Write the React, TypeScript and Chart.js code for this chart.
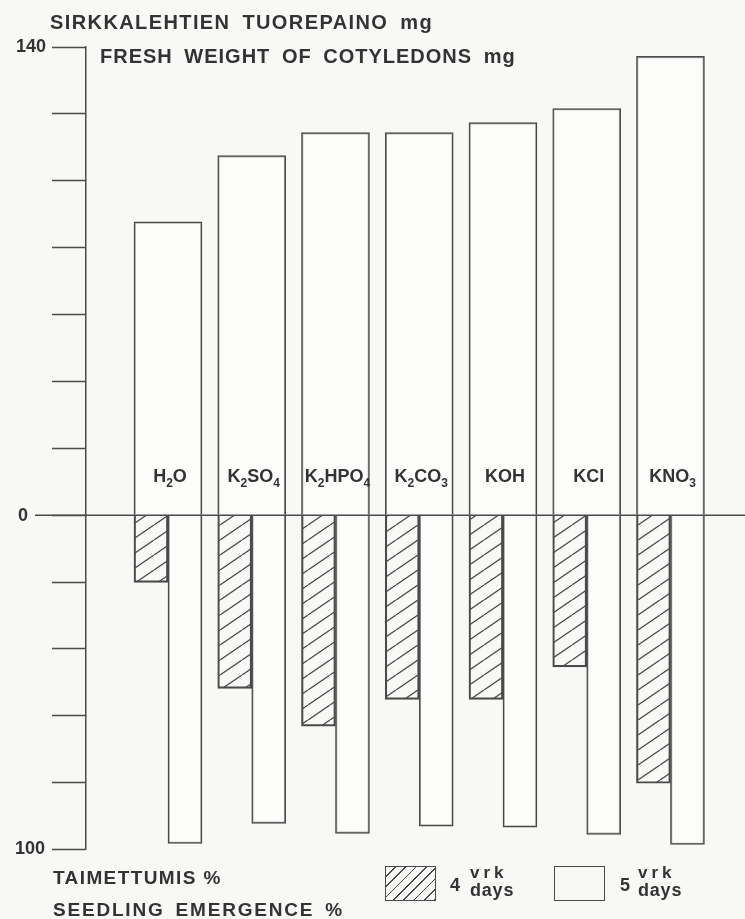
import { useEffect, useRef } from 'react';
import { Chart, registerables } from 'chart.js';

Chart.register(...registerables);

const categories = ['H2O', 'K2SO4', 'K2HPO4', 'K2CO3', 'KOH', 'KCl', 'KNO3'];
// fresh weight of cotyledons, mg (upper half)
const freshWeight = [87.7, 107.5, 114.4, 114.4, 117.4, 121.6, 137.2];
// seedling emergence %, after 4 and 5 days (lower half, drawn downwards)
const emergence4 = [20.1, 51.8, 63.1, 55.1, 55.1, 45.4, 80.2];
const emergence5 = [98.2, 92.2, 95.2, 93.0, 93.3, 95.5, 98.5];
const weightMax = 140;
const emergenceMax = 100;
const tickStep = 20;

const ink = '#333333';
const lineColor = '#4a4a4a';
const paper = '#f8f8f6';
const fontFamily = "'Liberation Sans', Arial, sans-serif";

function makeHatch(ctx: CanvasRenderingContext2D) {
  const w = 22;
  const h = 15;
  const tile = document.createElement('canvas');
  tile.width = w;
  tile.height = h;
  const g = tile.getContext('2d')!;
  g.strokeStyle = lineColor;
  g.lineWidth = 1.3;
  for (const dx of [-w, 0, w]) {
    g.beginPath();
    g.moveTo(dx, h);
    g.lineTo(dx + w, 0);
    g.stroke();
  }
  return ctx.createPattern(tile, 'repeat');
}

// zero line, y labels and the formula labels (digits as subscripts)
const overlayPlugin = {
  id: 'overlay',
  afterDatasetsDraw(chart: any) {
    const { ctx, chartArea, scales } = chart;
    const y = scales.y;
    const x = scales.x;
    const y0 = y.getPixelForValue(0);
    ctx.save();
    ctx.strokeStyle = lineColor;
    ctx.lineWidth = 1.5;
    ctx.beginPath();
    ctx.moveTo(35, y0);
    ctx.lineTo(chart.width, y0);
    ctx.stroke();

    ctx.fillStyle = ink;
    ctx.font = `bold 18px ${fontFamily}`;
    ctx.textBaseline = 'middle';
    ctx.textAlign = 'right';
    ctx.fillText(String(weightMax), chartArea.left - 40, y.getPixelForValue(weightMax));
    ctx.fillText(String(emergenceMax), chartArea.left - 41, y.getPixelForValue(-emergenceMax));
    ctx.fillText('0', 28, y0 + 1);

    ctx.textAlign = 'left';
    ctx.textBaseline = 'alphabetic';
    const mainFont = `bold 18px ${fontFamily}`;
    const subFont = `bold 12px ${fontFamily}`;
    categories.forEach((name, i) => {
      const parts: string[] = name.match(/\d+|\D+/g) || [];
      const widths = parts.map(p => {
        ctx.font = /\d/.test(p) ? subFont : mainFont;
        return ctx.measureText(p).width;
      });
      const total = widths.reduce((a, b) => a + b, 0);
      let px = x.getPixelForValue(i + 1) - total / 2 + 2;
      parts.forEach((p, j) => {
        const sub = /\d/.test(p);
        ctx.font = sub ? subFont : mainFont;
        ctx.fillText(p, px, y0 - (sub ? 28 : 33));
        px += widths[j];
      });
    });
    ctx.restore();
  }
};

export default function App() {
  const chartRef = useRef<HTMLCanvasElement>(null);
  const chartInstanceRef = useRef<Chart | null>(null);

  useEffect(() => {
    if (!chartRef.current) return;
    const ctx = chartRef.current.getContext('2d');
    if (!ctx) return;

    if (chartInstanceRef.current) {
      chartInstanceRef.current.destroy();
    }

    const hatch = makeHatch(ctx);

    chartInstanceRef.current = new Chart(ctx, {
      type: 'bar',
      data: {
        datasets: [
          {
            label: 'Fresh weight of cotyledons mg',
            data: freshWeight.map((v, i) => ({ x: i + 1, y: v })),
            grouped: false,
            categoryPercentage: 1,
            barPercentage: 1,
            maxBarThickness: 68,
            backgroundColor: 'rgba(255,255,255,0.6)',
            borderColor: lineColor,
            borderWidth: 1.5
          },
          {
            label: '4 vrk days',
            data: emergence4.map((v, i) => ({ x: i + 1, y: -v })),
            backgroundColor: hatch as any,
            borderColor: lineColor,
            borderWidth: 1.5,
            barThickness: 34
          },
          {
            label: '5 vrk days',
            data: emergence5.map((v, i) => ({ x: i + 1, y: -v })),
            backgroundColor: 'rgba(255,255,255,0.6)',
            borderColor: lineColor,
            borderWidth: 1.5,
            barThickness: 34
          }
        ]
      },
      options: {
        responsive: true,
        maintainAspectRatio: false,
        animation: false,
        layout: { padding: { left: 52, top: 47, bottom: 69.5, right: 0 } },
        plugins: {
          legend: { display: false },
          tooltip: { enabled: false }
        },
        scales: {
          x: {
            type: 'linear',
            min: 0.021,
            max: 7.89,
            offset: false,
            display: false,
            ticks: { stepSize: 1 }
          },
          y: {
            type: 'linear',
            min: -emergenceMax,
            max: weightMax,
            ticks: { display: false, stepSize: tickStep },
            grid: {
              drawOnChartArea: false,
              drawTicks: true,
              tickLength: 34,
              tickColor: lineColor,
              tickWidth: 1.5
            },
            border: { display: true, color: lineColor, width: 1.5 }
          }
        }
      },
      plugins: [overlayPlugin]
    });

    return () => {
      if (chartInstanceRef.current) {
        chartInstanceRef.current.destroy();
        chartInstanceRef.current = null;
      }
    };
  }, []);

  const text: React.CSSProperties = {
    position: 'absolute',
    lineHeight: 1,
    whiteSpace: 'nowrap',
    fontWeight: 'bold'
  };
  const box: React.CSSProperties = {
    position: 'absolute',
    top: 866,
    width: 51,
    height: 35,
    boxSizing: 'border-box',
    border: `1.5px solid ${lineColor}`
  };

  return (
    <div
      style={{
        position: 'absolute',
        left: 0,
        top: 0,
        width: 745,
        height: 919,
        overflow: 'hidden',
        background: paper,
        color: ink,
        fontFamily
      }}
    >
      <div style={{ position: 'absolute', left: 0, top: 0, width: 745, height: 919 }}>
        <canvas ref={chartRef} />
      </div>

      <div style={{ ...text, left: 50, top: 12, fontSize: 20, letterSpacing: 1.4, wordSpacing: 5 }}>
        SIRKKALEHTIEN TUOREPAINO mg
      </div>
      <div style={{ ...text, left: 100, top: 46, fontSize: 20, letterSpacing: 1, wordSpacing: 5 }}>
        FRESH WEIGHT OF COTYLEDONS mg
      </div>

      <div style={{ ...text, left: 53, top: 868, fontSize: 19, letterSpacing: 1.4 }}>
        TAIMETTUMIS %
      </div>
      <div style={{ ...text, left: 53, top: 900, fontSize: 19, letterSpacing: 1.8, wordSpacing: 4 }}>
        SEEDLING EMERGENCE %
      </div>

      <div
        style={{
          ...box,
          left: 385,
          background: `repeating-linear-gradient(135deg, transparent 0px, transparent 6px, ${lineColor} 6px, ${lineColor} 7.3px)`
        }}
      />
      <div style={{ ...text, left: 450, top: 876, fontSize: 18 }}>4</div>
      <div style={{ ...text, left: 470, top: 864, fontSize: 17, letterSpacing: 4 }}>vrk</div>
      <div style={{ ...text, left: 470, top: 881, fontSize: 18, letterSpacing: 0.8 }}>days</div>

      <div style={{ ...box, left: 554 }} />
      <div style={{ ...text, left: 620, top: 876, fontSize: 18 }}>5</div>
      <div style={{ ...text, left: 638, top: 864, fontSize: 17, letterSpacing: 4 }}>vrk</div>
      <div style={{ ...text, left: 638, top: 881, fontSize: 18, letterSpacing: 0.8 }}>days</div>
    </div>
  );
}
